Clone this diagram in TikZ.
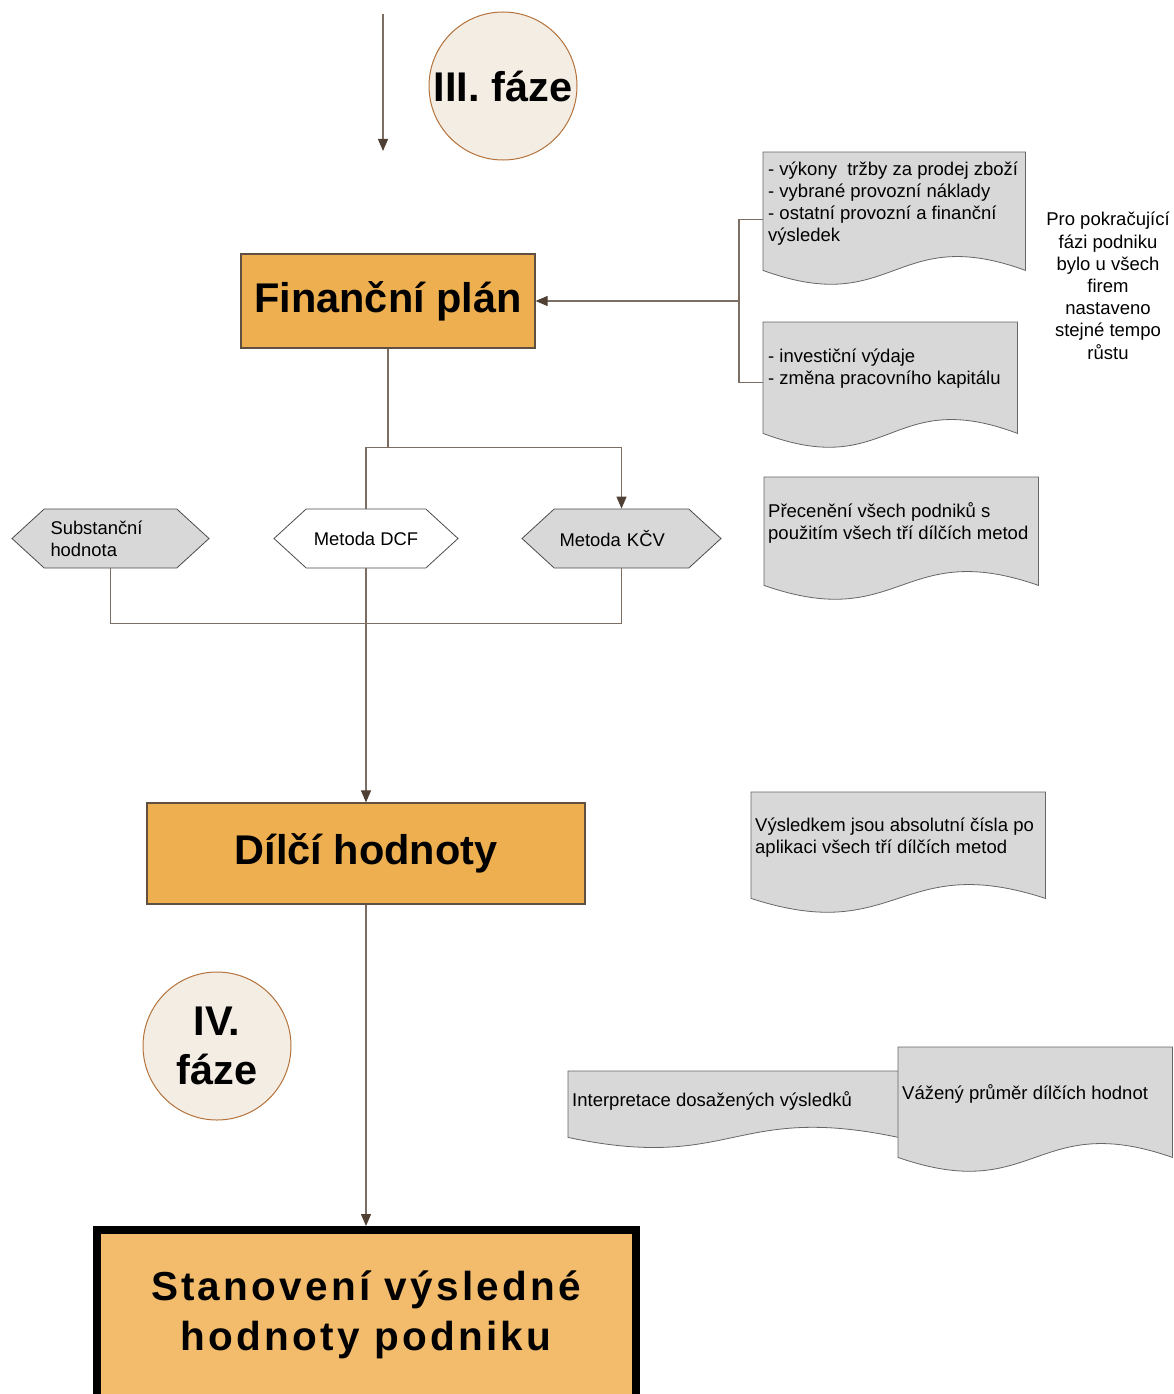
\documentclass[tikz,border=0pt]{standalone}
\usepackage{fontspec}
\setmainfont{Liberation Sans}
\usetikzlibrary{arrows.meta, shapes.symbols, positioning, calc}

\definecolor{planorange}{RGB}{237,175,80}
\definecolor{resultorange}{RGB}{243,188,108}
\definecolor{docgray}{RGB}{216,216,216}
\definecolor{phasefill}{RGB}{244,237,228}
\definecolor{phaseedge}{RGB}{180,115,60}
\definecolor{linkcol}{RGB}{125,110,100}
\definecolor{tipcol}{RGB}{80,64,52}
\definecolor{boxedge}{RGB}{95,80,65}

\tikzset{
  link/.style={draw=linkcol, line width=1.1pt},
  arrow/.style={link, -{Triangle[length=12pt, width=10pt, color=tipcol]}},
  planbox/.style={rectangle, fill=planorange, draw=boxedge, line width=1.2pt,
    inner sep=0pt, font=\bfseries\fontsize{41.5}{49}\selectfont},
  phase/.style={circle, fill=phasefill, draw=phaseedge, line width=1pt,
    minimum size=148pt, inner sep=0pt, align=center,
    font=\bfseries\fontsize{41.5}{49}\selectfont},
  hexbox/.style={signal, signal to=west and east, signal pointer angle=85,
    draw=black!70, line width=0.8pt, minimum height=59pt, inner sep=0pt,
    align=left, font=\fontsize{18.4}{22}\selectfont},
  docarea/.style={rectangle, draw=none, inner sep=0pt, anchor=north west},
  docshape/.style={fill=docgray, draw=black!60, line width=0.8pt},
  doctext/.style={inner sep=0pt, anchor=north west, align=left,
    font=\fontsize{18.5}{22}\selectfont},
}

% list shape with a wavy bottom edge round a named area
\newcommand{\wavedoc}[2][48]{%
  \draw[docshape] (#2.north west) -- (#2.north east) -- (#2.south east)
    .. controls ($(#2.south)+(0,-#1)$) and ($(#2.south)+(0,#1)$) .. (#2.south west) -- cycle;}

\begin{document}
\begin{tikzpicture}[x=1pt, y=-1pt]
  \useasboundingbox (0,0) rectangle (1174,1394);

  % III. faze
  \coordinate (entry) at (383,14);
  \coordinate (entryend) at (383,151);
  \draw[arrow] (entry) -- (entryend);
  \node[phase] (phase3) at (503,86) {III. fáze};

  % financni plan
  \node[planbox, minimum width=294pt, minimum height=94pt] (finplan) at (388,301) {Finanční plán};

  % podklady k planu
  \node[docarea, minimum width=262pt, minimum height=118pt] (plan1) at (763,152) {};
  \wavedoc{plan1}
  \node[doctext] (plan1txt) at (768,162) {- výkony\ \ tržby za prodej zboží\\- vybrané provozní náklady\\- ostatní provozní a finanční\\výsledek};

  \node[docarea, minimum width=254pt, minimum height=111pt] (plan2) at (763,322) {};
  \wavedoc{plan2}
  \node[doctext] (plan2txt) at (768,349) {- investiční výdaje\\- změna pracovního kapitálu};

  \node[inner sep=0pt, anchor=north, align=center, font=\fontsize{18.5}{22.2}\selectfont]
    (growth) at (1108,212) {Pro pokračující\\fázi podniku\\bylo u všech\\firem\\nastaveno\\stejné tempo\\růstu};

  \coordinate (fork) at (739,301);
  \draw[link] ([yshift=-8pt]plan1.west) -| (fork) |- ([yshift=-5pt]plan2.west);
  \draw[arrow] (fork) -- (finplan.east);

  % dilci metody
  \node[hexbox, fill=docgray, minimum width=197pt, text width=120pt] (subst) at (110.5,538.5) {Substanční\\hodnota};
  \node[hexbox, fill=white, minimum width=184pt] (dcf) at (366,538.5) {Metoda DCF};
  \node[hexbox, fill=docgray, minimum width=199pt, text width=124pt] (kcv) at (621.5,538.5) {Metoda KČV};

  \node[docarea, minimum width=274pt, minimum height=108pt] (reval) at (764,477) {};
  \wavedoc{reval}
  \node[doctext] (revaltxt) at (768,502) {Přecenění všech podniků s\\použitím všech tří dílčích metod};

  \draw[link] (finplan.south) -- ++(0,99) coordinate (split);
  \draw[link] (dcf.north) |- (split);
  \draw[arrow] (split) -| (kcv.north);
  \draw[link] (subst.south) -- ++(0,55.5) -| (kcv.south);

  % dilci hodnoty
  \node[planbox, minimum width=438pt, minimum height=101pt] (partial) at (366,853.5) {Dílčí hodnoty};
  \draw[arrow] (dcf.south) -- (partial.north);

  \node[docarea, minimum width=294pt, minimum height=106pt] (partres) at (751,792) {};
  \wavedoc{partres}
  \node[doctext] (partrestxt) at (755,818) {Výsledkem jsou absolutní čísla po\\aplikaci všech tří dílčích metod};

  % IV. faze
  \node[phase] (phase4) at (217,1046) {IV.\\fáze};

  \node[docarea, minimum width=330pt, minimum height=66pt] (interp) at (568,1071) {};
  \wavedoc[35]{interp}
  \node[doctext] (interptxt) at (572,1091) {Interpretace dosažených výsledků};

  \node[docarea, minimum width=274pt, minimum height=110pt] (weighted) at (898,1047) {};
  \wavedoc{weighted}
  \node[doctext] (weightedtxt) at (902,1084) {Vážený průměr dílčích hodnot};

  % vysledna hodnota
  \node[rectangle, fill=resultorange, draw=black, line width=8pt, inner sep=0pt,
    minimum width=539pt, minimum height=170pt, align=center,
    font=\bfseries\fontsize{40.5}{50}\selectfont\addfontfeature{LetterSpace=8}]
    (result) at (366,1315) {Stanovení výsledné\\hodnoty podniku};
  \draw[arrow] (partial.south) -- (result.north);
\end{tikzpicture}
\end{document}
